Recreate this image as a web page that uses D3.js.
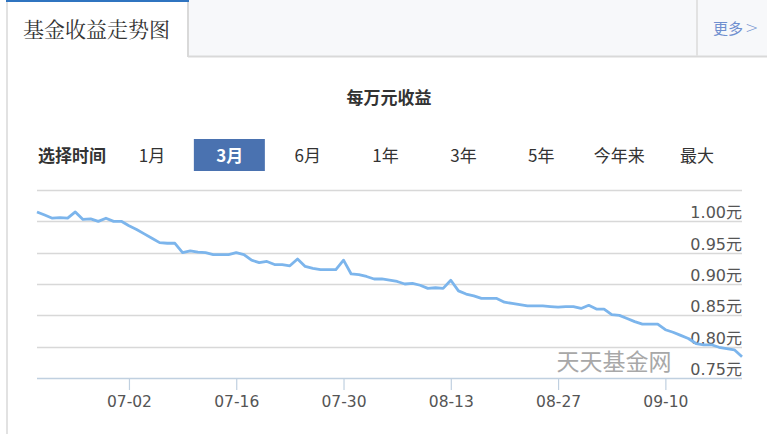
<!DOCTYPE html>
<html><head><meta charset="utf-8">
<script src="https://cdn.jsdelivr.net/npm/d3@7/dist/d3.min.js"></script>
<style>
html,body{margin:0;padding:0;background:#fff;}
svg{display:block;font-family:"Noto Sans CJK SC","Noto Sans",sans-serif;}
</style></head>
<body>
<svg id="c" width="767" height="434"></svg>
<script>
// ---- data ----
const startDate = "2018-06-20";
const values = [
 1.015,1.010,1.005,1.006,1.005,1.015,1.003,1.004,1.000,1.005,
 1.000,1.000,0.993,0.987,0.980,0.973,0.966,0.965,0.965,0.950,
 0.953,0.951,0.950,0.947,0.947,0.947,0.950,0.947,0.938,0.934,
 0.936,0.931,0.931,0.929,0.940,0.928,0.925,0.923,0.923,0.923,
 0.938,0.916,0.915,0.912,0.908,0.908,0.906,0.904,0.900,0.901,
 0.898,0.893,0.894,0.893,0.906,0.889,0.884,0.881,0.877,0.877,
 0.877,0.871,0.869,0.867,0.865,0.865,0.865,0.864,0.863,0.864,
 0.864,0.861,0.866,0.860,0.860,0.851,0.850,0.845,0.840,0.836,
 0.836,0.836,0.827,0.823,0.818,0.813,0.805,0.803,0.803,0.799,
 0.797,0.795,0.784
];
const yTicks = [0.75,0.80,0.85,0.90,0.95,1.00,1.05];
const xTickDates = ["2018-07-02","2018-07-16","2018-07-30","2018-08-13","2018-08-27","2018-09-10"];
const periods = ["1月","3月","6月","1年","3年","5年","今年来","最大"];
const activePeriod = "3月";

const parse = d3.utcParse("%Y-%m-%d");
const t0 = parse(startDate);
const data = values.map((v,i)=>({date:d3.utcDay.offset(t0,i), v}));

const svg = d3.select("#c");

// ---- header ----
svg.append("rect").attr("x",188).attr("y",0).attr("width",579).attr("height",56).attr("fill","#f7f8fa");
svg.append("line").attr("x1",188).attr("x2",767).attr("y1",56.5).attr("y2",56.5).attr("stroke","#d9d9d9").attr("stroke-width",2);
svg.append("line").attr("x1",188).attr("x2",188).attr("y1",0).attr("y2",57).attr("stroke","#d9d9d9").attr("stroke-width",2);
svg.append("line").attr("x1",697).attr("x2",697).attr("y1",0).attr("y2",56).attr("stroke","#e2e2e2").attr("stroke-width",2);
svg.append("line").attr("x1",7).attr("x2",7).attr("y1",0).attr("y2",434).attr("stroke","#e2e2e2").attr("stroke-width",2);
svg.append("line").attr("x1",6).attr("x2",189).attr("y1",1).attr("y2",1).attr("stroke","#2f74c0").attr("stroke-width",2);
svg.append("text").attr("x",23).attr("y",37).attr("font-size",21).attr("fill","#333")
  .attr("font-family","'Noto Serif CJK SC','Noto Sans CJK SC',serif").text("基金收益走势图");
svg.append("text").attr("x",713).attr("y",34).attr("font-size",15).attr("fill","#6f8fcf").text("更多");
svg.append("text").attr("x",745).attr("y",33).attr("font-size",16).attr("fill","#6f8fcf")
  .attr("font-family","'DejaVu Sans',sans-serif").attr("font-weight",200).text(">");

// ---- title ----
svg.append("text").attr("x",389).attr("y",104).attr("text-anchor","middle").attr("font-size",17)
  .attr("font-weight","bold").attr("fill","#333").text("每万元收益");

// ---- period selector ----
svg.append("text").attr("x",38).attr("y",162).attr("font-size",17).attr("font-weight","bold").attr("fill","#333").text("选择时间");
const px = d3.scalePoint().domain(periods).range([152,697]);
const g = svg.append("g");
periods.forEach(p=>{
  const cx = px(p);
  if(p===activePeriod){
    g.append("rect").attr("x",cx-36).attr("y",139).attr("width",71).attr("height",32).attr("fill","#4a72b0");
  }
  g.append("text").attr("x",cx).attr("y",162).attr("text-anchor","middle").attr("font-size",17)
   .attr("font-weight",p===activePeriod?"bold":"normal").attr("fill",p===activePeriod?"#fff":"#333").text(p);
});

// ---- chart ----
const x = d3.scaleUtc().domain([data[0].date,data[data.length-1].date]).range([37,742]);
const y = d3.scaleLinear().domain([0.75,1.05]).range([378,190]);

const grid = svg.append("g");
yTicks.forEach(t=>{
  if(t===0.75) return;
  grid.append("line").attr("x1",37).attr("x2",742).attr("y1",Math.round(y(t))+0.5).attr("y2",Math.round(y(t))+0.5)
    .attr("stroke","#d8d8d8").attr("stroke-width",1.5);
});
yTicks.forEach(t=>{
  if(t===1.05) return;
  svg.append("text").attr("x",742).attr("y",Math.round(y(t))-3).attr("text-anchor","end").attr("font-size",16)
    .attr("fill","#555").attr("font-family","'DejaVu Sans','Noto Sans CJK SC',sans-serif").text(t.toFixed(2)+"元");
});

// x axis
const xAxis = d3.axisBottom(x).tickValues(xTickDates.map(parse)).tickFormat(d3.utcFormat("%m-%d")).tickSize(12).tickSizeOuter(0);
const ax = svg.append("g").attr("transform","translate(0,378)").call(xAxis);
ax.select(".domain").attr("stroke","#c0d0e0").attr("stroke-width",1.5).attr("d","M37,0.5H742");
ax.selectAll(".tick line").attr("stroke","#c0d0e0").attr("stroke-width",1.2);
ax.selectAll(".tick text").attr("font-size",15.5).attr("fill","#555").attr("dy","0").attr("y",29)
  .attr("font-family","'DejaVu Sans','Noto Sans',sans-serif");

// watermark
svg.append("text").attr("x",614).attr("y",370).attr("text-anchor","middle").attr("font-size",23)
  .attr("fill","#999").attr("opacity",0.85).text("天天基金网");

// line
const line = d3.line().x(d=>x(d.date)).y(d=>y(d.v));
svg.append("path").datum(data).attr("d",line).attr("fill","none").attr("stroke","#7cb5ec")
  .attr("stroke-width",2.8).attr("stroke-linejoin","round");
</script>
</body></html>
